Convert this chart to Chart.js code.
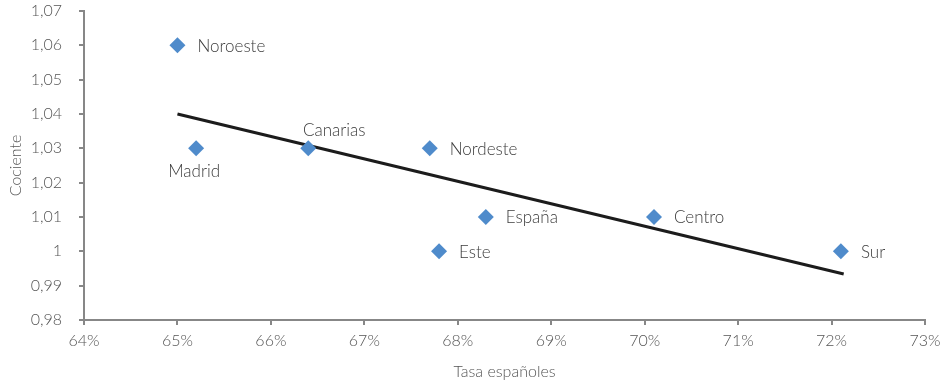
<!DOCTYPE html>
<html>
<head>
<meta charset="utf-8">
<script src="https://cdn.jsdelivr.net/npm/chart.js@4/dist/chart.umd.min.js"></script>
<style>
  html, body { margin: 0; padding: 0; background: #fff; }
  #wrap { width: 943px; height: 385px; position: relative; }
</style>
</head>
<body>
<div id="wrap"><canvas id="chart"></canvas></div>
<script>
// regiones y valores
const regiones = ['Noroeste', 'Madrid', 'Canarias', 'Nordeste', 'España', 'Este', 'Centro', 'Sur'];
const tasaEspanoles = [65.0, 65.2, 66.4, 67.7, 68.3, 67.8, 70.1, 72.1];
const cociente = [1.06, 1.03, 1.03, 1.03, 1.01, 1.00, 1.01, 1.00];
// posición de la etiqueta de cada punto
const posEtiqueta = ['right', 'below', 'above', 'right', 'right', 'right', 'right', 'right'];
// extremos de la línea de tendencia
const tendenciaX = [65.0, 72.13];
const tendenciaY = [1.040, 0.9934];

const fuente = "Lato, 'Open Sans', sans-serif";
const gris = '#555555';
const ejeColor = '#878787';

const puntos = tasaEspanoles.map((x, i) => ({ x: x, y: cociente[i] }));
const tendencia = tendenciaX.map((x, i) => ({ x: x, y: tendenciaY[i] }));

const etiquetasPlugin = {
    id: 'etiquetas',
    afterDatasetsDraw(chart) {
        const ctx = chart.ctx;
        const meta = chart.getDatasetMeta(0);
        ctx.save();
        ctx.font = '300 17px ' + fuente;
        ctx.fillStyle = '#3c3c3c';
        meta.data.forEach((pt, i) => {
            const pos = posEtiqueta[i];
            ctx.textBaseline = 'middle';
            if (pos === 'right') {
                ctx.textAlign = 'left';
                ctx.fillText(regiones[i], pt.x + 20, pt.y + 1);
            } else if (pos === 'below') {
                ctx.textAlign = 'center';
                ctx.fillText(regiones[i], pt.x - 2, pt.y + 23);
            } else {
                ctx.textAlign = 'center';
                ctx.fillText(regiones[i], pt.x + 26, pt.y - 18);
            }
        });
        ctx.restore();
    }
};

new Chart(document.getElementById('chart'), {
    type: 'scatter',
    data: {
        datasets: [{
            label: 'Regiones',
            data: puntos,
            pointStyle: 'rectRot',
            pointRadius: 8,
            pointHoverRadius: 8,
            backgroundColor: '#4f8bcb',
            borderColor: '#4f8bcb',
            borderWidth: 0,
            order: 1
        }, {
            label: 'Tendencia',
            type: 'line',
            data: tendencia,
            showLine: true,
            borderColor: '#1c1c1c',
            borderWidth: 3,
            pointRadius: 0,
            fill: false,
            order: 2
        }]
    },
    options: {
        responsive: true,
        maintainAspectRatio: false,
        animation: false,
        layout: { padding: { left: 0, right: 18, top: 11, bottom: 4 } },
        plugins: {
            legend: { display: false },
            tooltip: { enabled: false }
        },
        scales: {
            x: {
                type: 'linear',
                min: 64,
                max: 73,
                ticks: {
                    stepSize: 1,
                    color: gris,
                    padding: 6,
                    font: { family: fuente, size: 16, weight: '300' },
                    callback: v => v + '%'
                },
                grid: { drawOnChartArea: false, drawTicks: true, tickLength: 5, color: ejeColor, lineWidth: 2 },
                border: { color: ejeColor, width: 2 },
                title: {
                    display: true,
                    text: 'Tasa españoles',
                    color: gris,
                    font: { family: fuente, size: 16, weight: '300' },
                    padding: { top: 8, bottom: 0 }
                },
                afterFit: s => {
                    s.height = 61;
                    s.paddingLeft = 0;
                    s.paddingRight = 0;
                }
            },
            y: {
                type: 'linear',
                min: 0.98,
                max: 1.07,
                ticks: {
                    stepSize: 0.01,
                    color: gris,
                    padding: 17,
                    font: { family: fuente, size: 16, weight: '300' },
                    callback: v => String(Number(v.toFixed(2))).replace('.', ',')
                },
                grid: { drawOnChartArea: false, drawTicks: true, tickLength: 5, color: ejeColor, lineWidth: 2 },
                border: { color: ejeColor, width: 2 },
                title: {
                    display: true,
                    text: 'Cociente',
                    color: gris,
                    font: { family: fuente, size: 16, weight: '300' },
                    padding: { top: 6, bottom: 4 }
                },
                afterFit: s => {
                    s.width = 84;
                    s.paddingTop = 0;
                    s.paddingBottom = 0;
                }
            }
        }
    },
    plugins: [etiquetasPlugin]
});
</script>
</body>
</html>
